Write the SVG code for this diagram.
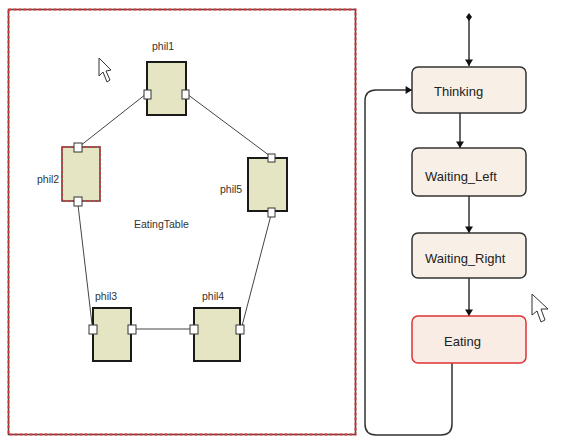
<svg xmlns="http://www.w3.org/2000/svg" width="580" height="441" viewBox="0 0 580 441">
<defs>
<style>
.lbl{font-family:"Liberation Sans",Arial,sans-serif;font-size:10.5px;fill:#333}
.st{font-family:"Liberation Sans",Arial,sans-serif;font-size:13px;fill:#222}
.part{fill:#e5e5c3;stroke:#1a1a1a;stroke-width:2}
.port{fill:#fff;stroke:#333;stroke-width:1}
.state{fill:#f8f0e6;stroke:#333;stroke-width:1.5}
.wire{stroke:#444;stroke-width:1;fill:none}
.tr{stroke:#333;stroke-width:1.5;fill:none}
.cur{fill:#fff;stroke:#333;stroke-width:1}
</style>
<marker id="ah" viewBox="0 0 8 10" refX="8" refY="5" markerWidth="7" markerHeight="8" orient="auto" markerUnits="userSpaceOnUse">
<path d="M0,0 L8,5 L0,10 Z" fill="#111"/>
</marker>
</defs>
<rect width="580" height="441" fill="#fff"/>

<g id="frame">
<rect x="8.5" y="9.5" width="347" height="425" fill="none" stroke="#444" stroke-width="1.5"/>
<rect x="8.5" y="9.5" width="347" height="425" fill="none" stroke="#d33" stroke-width="2" stroke-dasharray="3 2"/>
<text class="lbl" x="134" y="228">EatingTable</text>
</g>

<g id="connectors">
<line class="wire" x1="146" y1="94" x2="80" y2="146"/>
<line class="wire" x1="187" y1="94" x2="270" y2="156"/>
<line class="wire" x1="78" y1="205" x2="92" y2="324"/>
<line class="wire" x1="136" y1="329" x2="190" y2="329"/>
<line class="wire" x1="242" y1="326" x2="271" y2="215"/>
<path class="tr" d="M469,18 V66" marker-end="url(#ah)"/>
<path class="tr" d="M460,113 V148" marker-end="url(#ah)"/>
<path class="tr" d="M469,196 V233" marker-end="url(#ah)"/>
<path class="tr" d="M469,278 V316" marker-end="url(#ah)"/>
<path class="tr" d="M452,363 V424 Q452,435 441,435 H376 Q365,435 365,424 V101 Q365,90 376,90 H412" marker-end="url(#ah)"/>
<path d="M469,13 L472,17 L469,21 L466,17 Z" fill="#111"/>
</g>

<g id="phil1">
<text class="lbl" x="152" y="50">phil1</text>
<rect class="part" x="147" y="62" width="39" height="53"/>
<rect class="port" x="144" y="90" width="7" height="9"/>
<rect class="port" x="182" y="90" width="7" height="9"/>
</g>
<g id="phil2">
<text class="lbl" x="37" y="183">phil2</text>
<rect x="62" y="147" width="38" height="54" fill="#e5e5c3" stroke="#444" stroke-width="1.5"/>
<rect x="62" y="147" width="38" height="54" fill="none" stroke="#d33" stroke-width="1.5" stroke-dasharray="2.5 2"/>
<rect class="port" x="74" y="143" width="8" height="9"/>
<rect class="port" x="74" y="197" width="8" height="9"/>
</g>
<g id="phil5">
<text class="lbl" x="220" y="193">phil5</text>
<rect class="part" x="248" y="158" width="39" height="53"/>
<rect class="port" x="268" y="154" width="7" height="8"/>
<rect class="port" x="268" y="208" width="7" height="9"/>
</g>
<g id="phil3">
<text class="lbl" x="95" y="300">phil3</text>
<rect class="part" x="93" y="308" width="38" height="53"/>
<rect class="port" x="89" y="325" width="8" height="9"/>
<rect class="port" x="128" y="325" width="8" height="9"/>
</g>
<g id="phil4">
<text class="lbl" x="202" y="300">phil4</text>
<rect class="part" x="194" y="308" width="46" height="53"/>
<rect class="port" x="190" y="325" width="8" height="9"/>
<rect class="port" x="236" y="325" width="8" height="9"/>
</g>

<g id="Thinking">
<rect class="state" x="412" y="67" width="114" height="46" rx="6"/>
<text class="st" x="434" y="96">Thinking</text>
</g>
<g id="Waiting_Left">
<rect class="state" x="412" y="148" width="114" height="48" rx="6"/>
<text class="st" x="425" y="181">Waiting_Left</text>
</g>
<g id="Waiting_Right">
<rect class="state" x="412" y="233" width="114" height="45" rx="6"/>
<text class="st" x="425" y="263">Waiting_Right</text>
</g>
<g id="Eating">
<rect x="412" y="316" width="114" height="47" rx="6" fill="#f8ece4" stroke="#d33" stroke-width="1.5"/>
<text class="st" x="444" y="346">Eating</text>
</g>

<g id="cursors">
<path class="cur" d="M99,58 L99,76 L103,72 L107,82 L110,80 L106,71 L111,70 Z"/>
<path class="cur" d="M532,294 L532,315 L537,311 L541,322 L545,320 L541,309 L548,309 Z"/>
</g>
</svg>
